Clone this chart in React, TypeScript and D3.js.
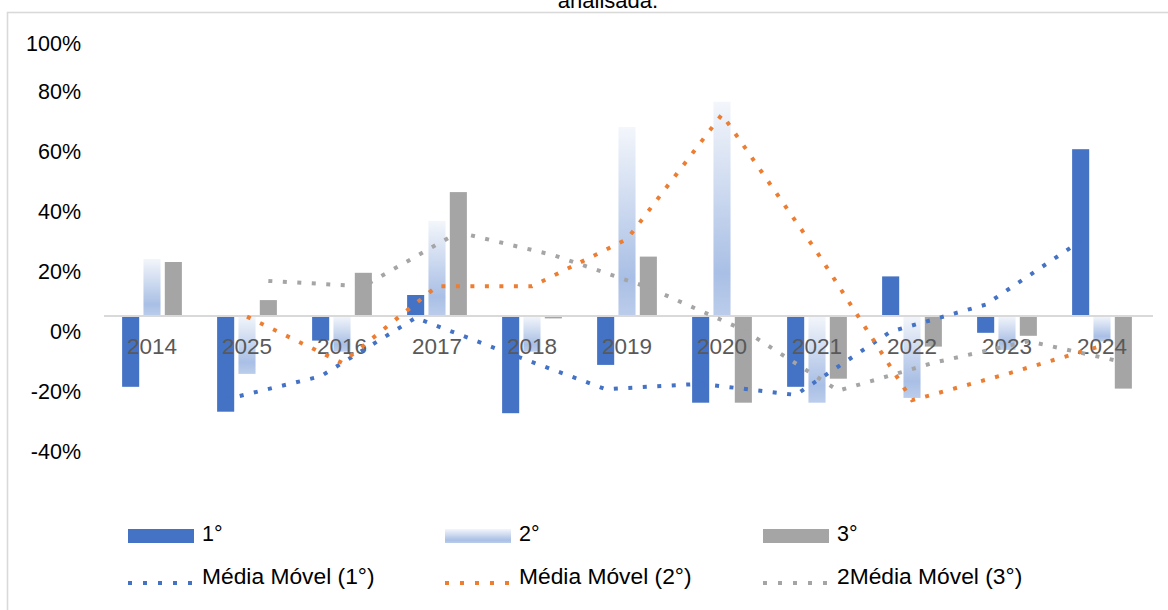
import React from "react";
import * as d3 from "d3";

const categories = ["2014", "2025", "2016", "2017", "2018", "2019", "2020", "2021", "2022", "2023", "2024"];
const seriesNames = ["1°", "2°", "3°"];
const first = [-23.6, -31.9, -8.2, 7.0, -32.4, -16.3, -28.9, -23.6, 13.2, -5.6, 55.6];
const second = [19.0, -19.3, -11.9, 31.7, -11.9, 63.0, 71.4, -28.9, -27.3, -11.3, -8.5];
const third = [18.0, 5.3, 14.4, 41.3, -0.8, 19.8, -28.9, -20.9, -10.2, -6.6, -24.2];
const movAvg1 = [null, -27.8, -20.1, -0.6, -12.7, -24.4, -22.6, -26.3, -5.2, 3.8, 25.0];
const movAvg2 = [null, -0.2, -15.6, 9.9, 9.9, 25.6, 67.2, 21.3, -28.1, -19.3, -9.9];
const movAvg3 = [null, 11.7, 9.9, 27.9, 20.3, 9.5, -4.6, -24.9, -15.6, -8.4, -15.4];
const yTicks = [100, 80, 60, 40, 20, 0, -20, -40];
const lineNames = ["Média Móvel (1°)", "Média Móvel (2°)", "2Média Móvel (3°)"];
const title = "analisada.";

const W = 1168;
const H = 610;
const FONT = "'Liberation Sans', Arial, sans-serif";
const colors = ["#4472C4", "url(#grad2)", "#A5A5A5"];
const lineColors = ["#4472C4", "#ED7D31", "#A5A5A5"];

export default function App() {
  const x0 = d3.scaleBand<string>().domain(categories).range([104.5, 1149.5]).paddingInner(0.326).paddingOuter(0.163);
  const x1 = d3.scaleBand<string>().domain(seriesNames).range([0, x0.bandwidth()]).paddingInner(0.2).paddingOuter(0.1);
  const y = d3.scaleLinear().domain([-40, 100]).range([436, 16]);
  const values = [first, second, third];
  const mas = [movAvg1, movAvg2, movAvg3];

  const barX = (ci: number, si: number) => (x0(categories[ci]) as number) + (x1(seriesNames[si]) as number);
  const lineGen = (si: number) =>
    d3
      .line<number | null>()
      .defined((d) => d != null)
      .x((_, i) => barX(i, si) + x1.bandwidth() / 2)
      .y((d) => y(d as number));

  const legendCols = [128, 445, 763];

  return (
    <svg width={W} height={H} style={{ position: "absolute", left: 0, top: 0, background: "#fff" }} fontFamily={FONT}>
      <defs>
        <linearGradient id="grad2" x1="0" y1="0" x2="0" y2="1">
          <stop offset="0" stopColor="#f3f6fb" />
          <stop offset="0.8" stopColor="#a9bfe5" />
          <stop offset="1" stopColor="#bccdeb" />
        </linearGradient>
      </defs>
      <rect x={0} y={0} width={W} height={H} fill="#fff" />
      <text x={608} y={8} textAnchor="middle" fontSize={22} fill="#000">{title}</text>
      <rect x={7.5} y={12.5} width={W + 10} height={H + 10} fill="none" stroke="#d9d9d9" strokeWidth={1.6} />

      {yTicks.map((t) => (
        <text key={t} x={81} y={Math.max(y(t) + 15.5, 43) + 7.6} textAnchor="end" fontSize={21.5} fill="#000">
          {t}%
        </text>
      ))}

      {values.map((vals, si) =>
        vals.map((v, ci) => (
          <rect
            key={`${si}-${ci}`}
            x={barX(ci, si)}
            y={Math.min(y(v), y(0))}
            width={x1.bandwidth()}
            height={Math.abs(y(v) - y(0))}
            fill={colors[si]}
          />
        ))
      )}

      <line x1={104} x2={1153} y1={y(0)} y2={y(0)} stroke="#d9d9d9" strokeWidth={1.8} />

      {categories.map((c) => (
        <text key={c} x={(x0(c) as number) + x0.bandwidth() / 2} y={354} textAnchor="middle" fontSize={22.5} fill="#595959">
          {c}
        </text>
      ))}

      {mas.map((m, si) => (
        <path
          key={si}
          d={lineGen(si)(m) || ""}
          fill="none"
          stroke={lineColors[si]}
          strokeWidth={4}
          strokeDasharray="4 10.5"
        />
      ))}

      {seriesNames.map((s, i) => (
        <g key={s}>
          <rect x={legendCols[i]} y={529} width={66} height={14} fill={colors[i]} />
          <text x={legendCols[i] + 74} y={541} fontSize={21.5} fill="#000">{s}</text>
        </g>
      ))}
      {lineNames.map((s, i) => (
        <g key={s}>
          <line x1={legendCols[i]} x2={legendCols[i] + 66} y1={583} y2={583} stroke={lineColors[i]} strokeWidth={4} strokeDasharray="4 11" />
          <text x={legendCols[i] + 74} y={584} fontSize={22.8} fill="#000">{s}</text>
        </g>
      ))}
    </svg>
  );
}
